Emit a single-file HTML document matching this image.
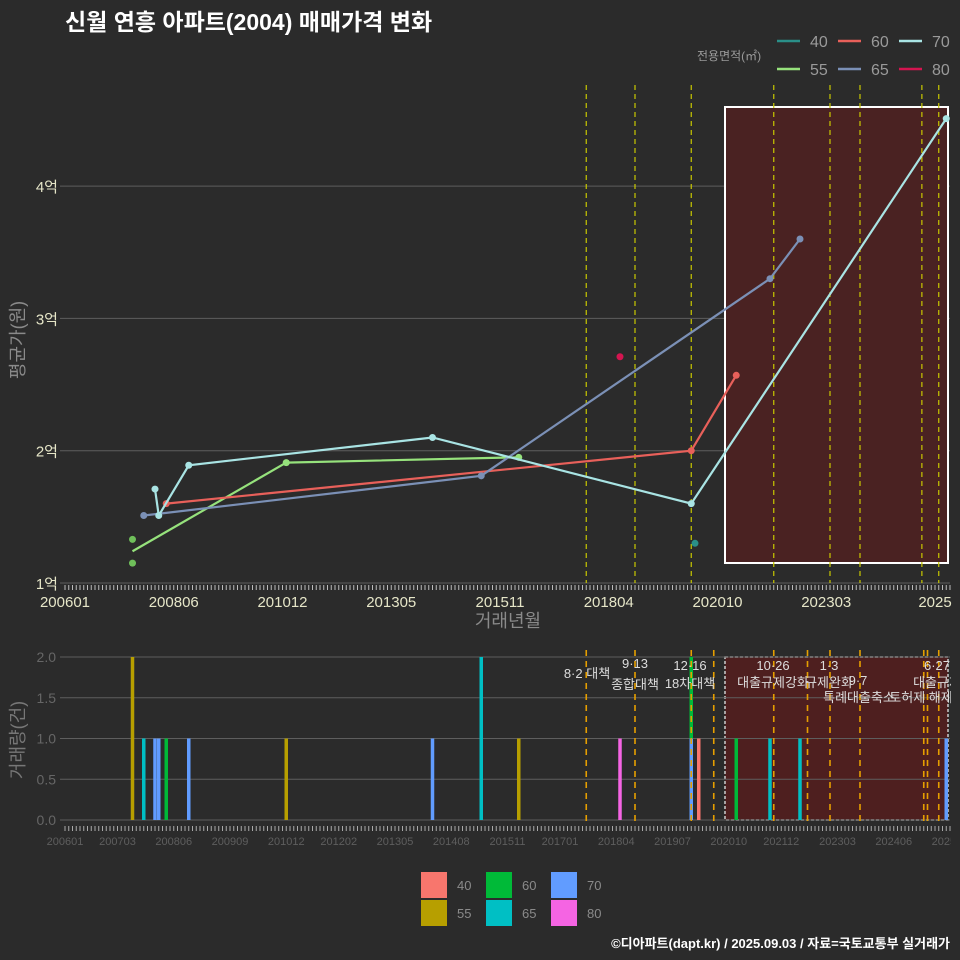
<!DOCTYPE html>
<html><head><meta charset="utf-8">
<style>
html,body{margin:0;padding:0;background:#2b2b2b;}
svg{display:block;font-family:"Liberation Sans","Noto Sans CJK KR",sans-serif;}
</style></head>
<body>
<svg id="chart" width="960" height="960" viewBox="0 0 960 960" xmlns="http://www.w3.org/2000/svg">
<defs><clipPath id="clipB"><rect x="0" y="640" width="951" height="220"/></clipPath></defs>
<rect width="960" height="960" fill="#2b2b2b"/>
<text x="65" y="30" fill="#ffffff" font-size="23" font-weight="bold">신월 연흥 아파트(2004) 매매가격 변화</text>
<text x="697" y="60" fill="#9a9a9a" font-size="12">전용면적(㎡)</text>
<text transform="translate(24,340) rotate(-90)" text-anchor="middle" fill="#8a8a8a" font-size="18">평균가(원)</text>
<text x="508" y="627" text-anchor="middle" fill="#8a8a8a" font-size="18">거래년월</text>
<text transform="translate(24,740) rotate(-90)" text-anchor="middle" fill="#777" font-size="18">거래량(건)</text>
<text x="950" y="948" text-anchor="end" fill="#ffffff" font-size="13" font-weight="bold">©디아파트(dapt.kr) / 2025.09.03 / 자료=국토교통부 실거래가</text>
<g id="g"></g>
</svg>
<script>
// month index: 0 = 2006-01
const sizes = ['40','55','60','65','70','80'];
const priceMonths = {
  '40':[168], '55':[18,59,121], '60':[27,167,179], '65':[21,111,188,196], '70':[24,25,33,98,167,235], '80':[148]
};
const priceValues = {
  '40':[1.30], '55':[1.24,1.91,1.95], '60':[1.60,2.00,2.57], '65':[1.51,1.81,3.30,3.60], '70':[1.71,1.51,1.89,2.10,1.60,4.51], '80':[2.71]
};
const extraDotMonths = [18,18];
const extraDotValues = [1.33,1.15];
const extraDotSize = ['55','55'];
const volMonths = [18,21,24,25,27,33,59,98,111,121,148,167,167,169,179,188,196,235];
const volSizes  = ['55','65','70','70','60','70','55','70','65','55','80','70','60','40','60','65','65','70'];
const volCounts = [2,1,1,1,1,1,1,1,2,1,1,1,1,1,1,1,1,1];
const policyTopMonths = [139,152,167,189,204,212,228.5,233];
const policyBottomMonths = [139,152,167,173,189,198,204,212,229,230,233];
const yTicksTop = [1,2,3,4];
const yTickLabelsTop = ['1억','2억','3억','4억'];
const yTicksBot = [0,0.5,1,1.5,2];
const yTickLabelsBot = ['0.0','0.5','1.0','1.5','2.0'];
const xTickMonthsTop = [0,29,58,87,116,145,174,203,232];
const xTickLabelsTop = ['200601','200806','201012','201305','201511','201804','202010','202303','2025'];
const xTickMonthsBot = [0,14,29,44,59,73,88,103,118,132,147,162,177,191,206,221,236];
const xTickLabelsBot = ['200601','200703','200806','200909','201012','201202','201305','201408','201511','201701','201804','201907','202010','202112','202303','202406','202509'];

const lineCol = {'40':'#2a8f88','55':'#96e27c','60':'#e8605a','65':'#7b90b6','70':'#a9e4e4','80':'#d41550'};
const barCol = {'40':'#f8766d','55':'#b79f00','60':'#00ba38','65':'#00bfc4','70':'#619cff','80':'#f564e3'};

const X = m => 65 + m*3.75;
const YT = v => 583 - (v-1)*132.3;
const YB = v => 820 - v*81.5;
const NS='http://www.w3.org/2000/svg';
const g=document.getElementById('g');
function mk(tag,attrs,parent){const e=document.createElementNS(NS,tag);for(const k in attrs)e.setAttribute(k,attrs[k]);(parent||g).appendChild(e);return e;}

yTicksTop.forEach((v,i)=>{
  const l=mk('line',{x1:60,x2:950,y1:YT(v),y2:YT(v),stroke:'#5e5e5e','stroke-width':1});
  
  
  const t=mk('text',{x:58,y:YT(v)+6,'text-anchor':'end',fill:'#e6e6c8','font-size':15});
  t.textContent=yTickLabelsTop[i];
  
  
});
for(let m=0;m<=236;m++){
  const l=mk('line',{x1:X(m),x2:X(m),y1:585,y2:590,stroke:'#bbb','stroke-width':1});
  
  
}
xTickMonthsTop.forEach((m,i)=>{
  const t=mk('text',{x:X(m),y:607,'text-anchor':'middle',fill:'#e6e6c8','font-size':15});
  t.textContent=xTickLabelsTop[i];
  
  
});
const rt=mk('rect',{x:725,y:107,width:223,height:456,fill:'#4a2222',stroke:'#ffffff','stroke-width':2});


policyTopMonths.forEach(m=>{
  const l=mk('line',{x1:X(m),x2:X(m),y1:85,y2:583,stroke:'#c8c800','stroke-width':1.2,'stroke-dasharray':'5,4'});
  
  
});
sizes.forEach(s=>{
  const ms=priceMonths[s], vs=priceValues[s];
  if(ms.length>1){
    const p=mk('polyline',{points:ms.map((m,i)=>X(m)+','+YT(vs[i])).join(' '),fill:'none',stroke:lineCol[s],'stroke-width':2.2});
    
    
  }
  ms.forEach((m,i)=>{
    if(s==='55'&&i===0)return;
    const c=mk('circle',{cx:X(m),cy:YT(vs[i]),r:3.5,fill:lineCol[s]});
    
    
  });
});
extraDotMonths.forEach((m,i)=>{
  const c=mk('circle',{cx:X(m),cy:YT(extraDotValues[i]),r:3.5,fill:'#6fbf5a'});
  
  
});
const legPos={'40':[777,41],'60':[838,41],'70':[899,41],'55':[777,69],'65':[838,69],'80':[899,69]};
sizes.forEach(s=>{
  const [x,y]=legPos[s];
  const l=mk('line',{x1:x,x2:x+23,y1:y,y2:y,stroke:lineCol[s],'stroke-width':2.5});
  
  
  const t=mk('text',{x:x+33,y:y+6,fill:'#9a9a9a','font-size':16});
  t.textContent=s;
  
  
});

// bottom chart
const gb=mk('g',{'clip-path':'url(#clipB)'});


const rb=mk('rect',{x:725,y:657,width:223,height:163,fill:'#4e1f1f',stroke:'#cccccc','stroke-width':1.5,'stroke-dasharray':'3,2'},gb);


yTicksBot.forEach((v,i)=>{
  const l=mk('line',{x1:60,x2:950,y1:YB(v),y2:YB(v),stroke:'#5e5e5e','stroke-width':1},gb);
  
  
  const t=mk('text',{x:56,y:YB(v)+5,'text-anchor':'end',fill:'#666','font-size':14},gb);
  t.textContent=yTickLabelsBot[i];
  
  
});
for(let m=0;m<=236;m++){
  const l=mk('line',{x1:X(m),x2:X(m),y1:826,y2:831,stroke:'#aaa','stroke-width':1},gb);
  
  
}
xTickMonthsBot.forEach((m,i)=>{
  const t=mk('text',{x:X(m),y:845,'text-anchor':'middle',fill:'#5e5e5e','font-size':11},gb);
  t.textContent=xTickLabelsBot[i];
  
  
});
const stackBase={};
volMonths.forEach((m,i)=>{
  const base=stackBase[m]||0;
  const r=mk('rect',{x:X(m)-1.75,y:YB(base+volCounts[i]),width:3.5,height:YB(base)-YB(base+volCounts[i]),fill:barCol[volSizes[i]]},gb);
  
  
  stackBase[m]=base+volCounts[i];
});
policyBottomMonths.forEach(m=>{
  const l=mk('line',{x1:X(m),x2:X(m),y1:650,y2:826,stroke:'#e69f00','stroke-width':1.6,'stroke-dasharray':'6,5'},gb);
  
  
});
const annX=[587,635,690,773,829,858,921,937,859,937,635,690,773,829];
const annY=[678,668,670,670,670,685,702,670,702,687,689,688,687,687];
const annT=['8·2 대책','9·13','12·16','10·26','1·3','9·7','토허제 해제','6·27','특례대출축소','대출규제','종합대책','18차대책','대출규제강화','규제완화'];
annX.forEach((x,i)=>{
  const t=mk('text',{x:x,y:annY[i],'text-anchor':'middle',fill:'#dddddd','font-size':13},gb);
  t.textContent=annT[i];
  
  
});
const bl={'40':[421,872],'55':[421,900],'60':[486,872],'65':[486,900],'70':[551,872],'80':[551,900]};
sizes.forEach(s=>{
  const [x,y]=bl[s];
  const r=mk('rect',{x:x,y:y,width:26,height:26,fill:barCol[s]});
  
  
  const t=mk('text',{x:x+36,y:y+18,fill:'#8a8a8a','font-size':13});
  t.textContent=s;
  
  
});
</script>
</body></html>
